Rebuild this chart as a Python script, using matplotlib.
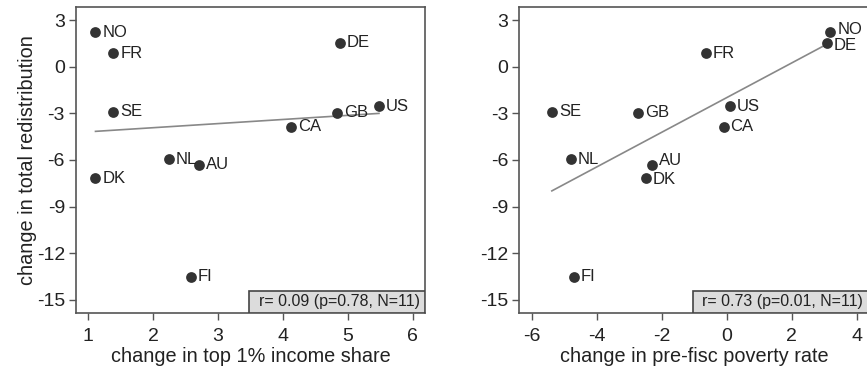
import numpy as np
import matplotlib
matplotlib.use('Agg')
import matplotlib.pyplot as plt
from matplotlib.patches import Rectangle

plt.rcParams['font.family'] = ['Liberation Sans', 'DejaVu Sans']
plt.rcParams['axes.unicode_minus'] = False

countries = ['NO', 'FR', 'DE', 'SE', 'GB', 'US', 'CA', 'NL', 'AU', 'DK', 'FI']
redistribution = [2.21, 0.86, 1.54, -2.89, -2.96, -2.53, -3.86, -5.95, -6.32, -7.17, -13.5]
top1_share = [1.11, 1.385, 4.88, 1.385, 4.84, 5.48, 4.13, 2.24, 2.71, 1.11, 2.58]
poverty_rate = [3.18, -0.64, 3.08, -5.38, -2.72, 0.10, -0.10, -4.80, -2.31, -2.49, -4.70]

stats_left = 'r= 0.09 (p=0.78, N=11)'
stats_right = 'r= 0.73 (p=0.01, N=11)'

# label offsets (points) where they differ from default
offs_left = {}
offs_right = {'NO': (5, 2), 'DE': (5, -2), 'AU': (5, 3), 'DK': (5, -1)}

dot = '#333333'
frame = '#555555'
txt = '#222222'

fig = plt.figure(figsize=(8.67, 3.71), dpi=100)
ax1 = fig.add_axes([0.0877, 0.1563, 0.4025, 0.825])
ax2 = fig.add_axes([0.599, 0.1563, 0.4025, 0.825])


def panel(ax, x, y, xlim, xticks, xlabel, stats, offs):
    ax.scatter(x, y, s=60, color=dot, zorder=3, linewidths=0)
    b, a = np.polyfit(x, y, 1)
    xs = np.array([min(x), max(x)])
    ax.plot(xs, a + b * xs, color='#888888', lw=1.2, zorder=2)
    for c, xi, yi in zip(countries, x, y):
        ax.annotate(c, (xi, yi), xytext=offs.get(c, (5, 0)), textcoords='offset points',
                    ha='left', va='center', fontsize=12, color=txt, zorder=4)
    ax.set_xlim(*xlim)
    ax.set_ylim(-15.84, 3.84)
    ax.set_xticks(xticks)
    ax.set_yticks([3, 0, -3, -6, -9, -12, -15])
    ax.tick_params(direction='out', length=5, width=1, color=frame, labelsize=14,
                   labelcolor=txt, pad=3)
    ax.tick_params(axis='x', pad=6)
    for s in ax.spines.values():
        s.set_color(frame)
        s.set_linewidth(1.2)
    ax.set_xlabel(xlabel, fontsize=14.3, color=txt, labelpad=1)
    ax.add_patch(Rectangle((0.497, 0), 0.503, 0.072, transform=ax.transAxes,
                           facecolor='#dcdcdc', edgecolor='#444444', lw=1.2, zorder=5))
    ax.text(0.985, 0.036, stats, transform=ax.transAxes, ha='right', va='center',
            fontsize=11.5, color=txt, zorder=6)


panel(ax1, top1_share, redistribution, (0.81, 6.19), [1, 2, 3, 4, 5, 6],
      'change in top 1% income share', stats_left, offs_left)
panel(ax2, poverty_rate, redistribution, (-6.38, 4.35), [-6, -4, -2, 0, 2, 4],
      'change in pre-fisc poverty rate', stats_right, offs_right)
ax1.set_ylabel('change in total redistribution', fontsize=14.3, color=txt, labelpad=0)

fig.savefig('out.png', dpi=100)
